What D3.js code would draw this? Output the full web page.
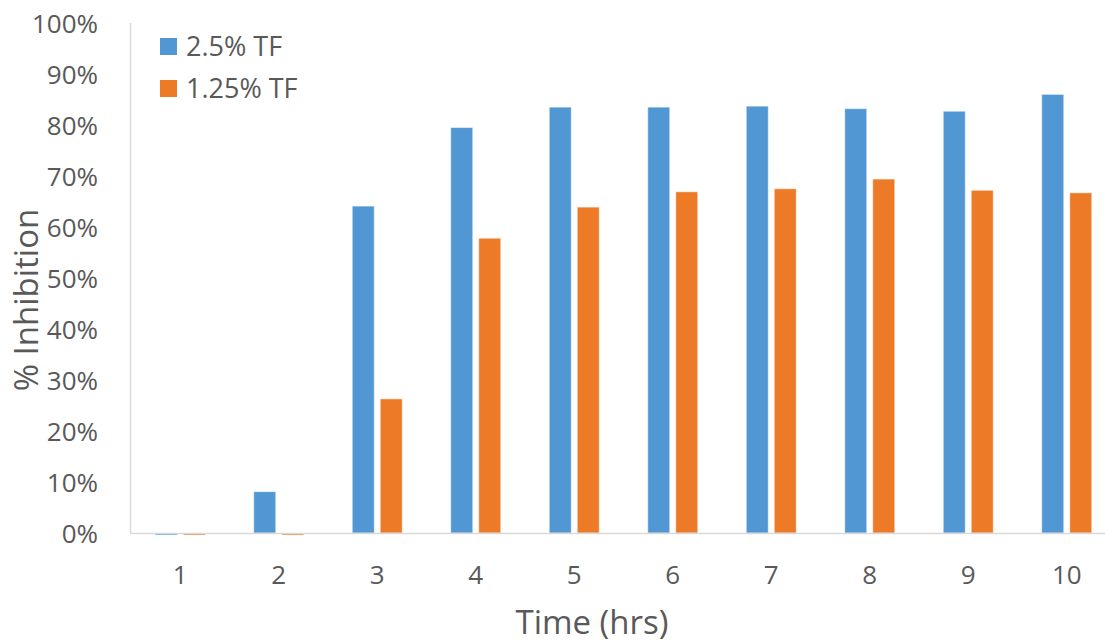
<!DOCTYPE html>
<html><head><meta charset="utf-8">
<script src="https://cdn.jsdelivr.net/npm/d3@7"></script>
<style>body{margin:0;background:#fff}text{font-family:"Open Sans",sans-serif;fill:#595959}</style>
</head><body><svg id="c" width="1105" height="644"></svg>
<script>
const categories = ["1","2","3","4","5","6","7","8","9","10"];
const seriesNames = ["2.5% TF","1.25% TF"];
const tf25 = [-0.004, 0.081, 0.641, 0.795, 0.835, 0.835, 0.837, 0.832, 0.827, 0.860];
const tf125 = [-0.004, -0.004, 0.263, 0.578, 0.639, 0.669, 0.675, 0.694, 0.672, 0.667];
const yTicks = [0,0.1,0.2,0.3,0.4,0.5,0.6,0.7,0.8,0.9,1.0];
const colors = ["#5097D3","#EC7A27"];

const svg = d3.select("#c");
const x = d3.scaleBand().domain(categories).range([131,1116]).padding(0);
const y = d3.scaleLinear().domain([0,1]).range([533,23]);

svg.append("line").attr("x1",130.5).attr("x2",130.5).attr("y1",y(1)).attr("y2",y(0)).attr("stroke","#d9d9d9").attr("stroke-width",1.5);

const yAxis = d3.axisLeft(y).tickValues(yTicks).tickFormat(d3.format(".0%")).tickSize(0).tickPadding(32);
const gy = svg.append("g").attr("transform","translate(130,0)").call(yAxis);
gy.select(".domain").remove();
gy.selectAll("text").style("font-size","26px").attr("dy","0.35em").attr("fill","#595959");

const bw = 22, gap = 3;
const series = [tf25, tf125];
series.forEach((vals,si)=>{
  svg.append("g").selectAll("rect").data(vals).join("rect")
    .attr("x",(d,i)=> x(categories[i]) + x.bandwidth()/2 + (si===0 ? -gap-bw : gap))
    .attr("y",d=> Math.min(y(d),y(0)))
    .attr("width",bw)
    .attr("height",d=> Math.abs(y(d)-y(0)))
    .attr("fill",colors[si])
    .attr("stroke","#fff").attr("stroke-opacity",0.5).attr("stroke-width",1);
});

svg.append("line").attr("x1",130).attr("x2",1105).attr("y1",533.5).attr("y2",533.5).attr("stroke","#d9d9d9").attr("stroke-width",1.5);

const xAxis = d3.axisBottom(x).tickSize(0);
const gx = svg.append("g").attr("transform","translate(0,533)").call(xAxis);
gx.select(".domain").remove();
gx.selectAll("text").style("font-size","26px").attr("dy","0.35em").attr("y",42).attr("fill","#595959");

svg.append("text").attr("x",592).attr("y",634).attr("text-anchor","middle").style("font-size","33px").text("Time (hrs)");
svg.append("text").attr("transform","translate(38,300) rotate(-90)").attr("text-anchor","middle").style("font-size","33px").text("% Inhibition");

seriesNames.forEach((n,i)=>{
  const ly = 38 + i*42;
  svg.append("rect").attr("x",160).attr("y",ly).attr("width",17).attr("height",17).attr("fill",colors[i]);
  svg.append("text").attr("x",186).attr("y",ly+18).style("font-size","27px").text(n);
});
</script></body></html>
